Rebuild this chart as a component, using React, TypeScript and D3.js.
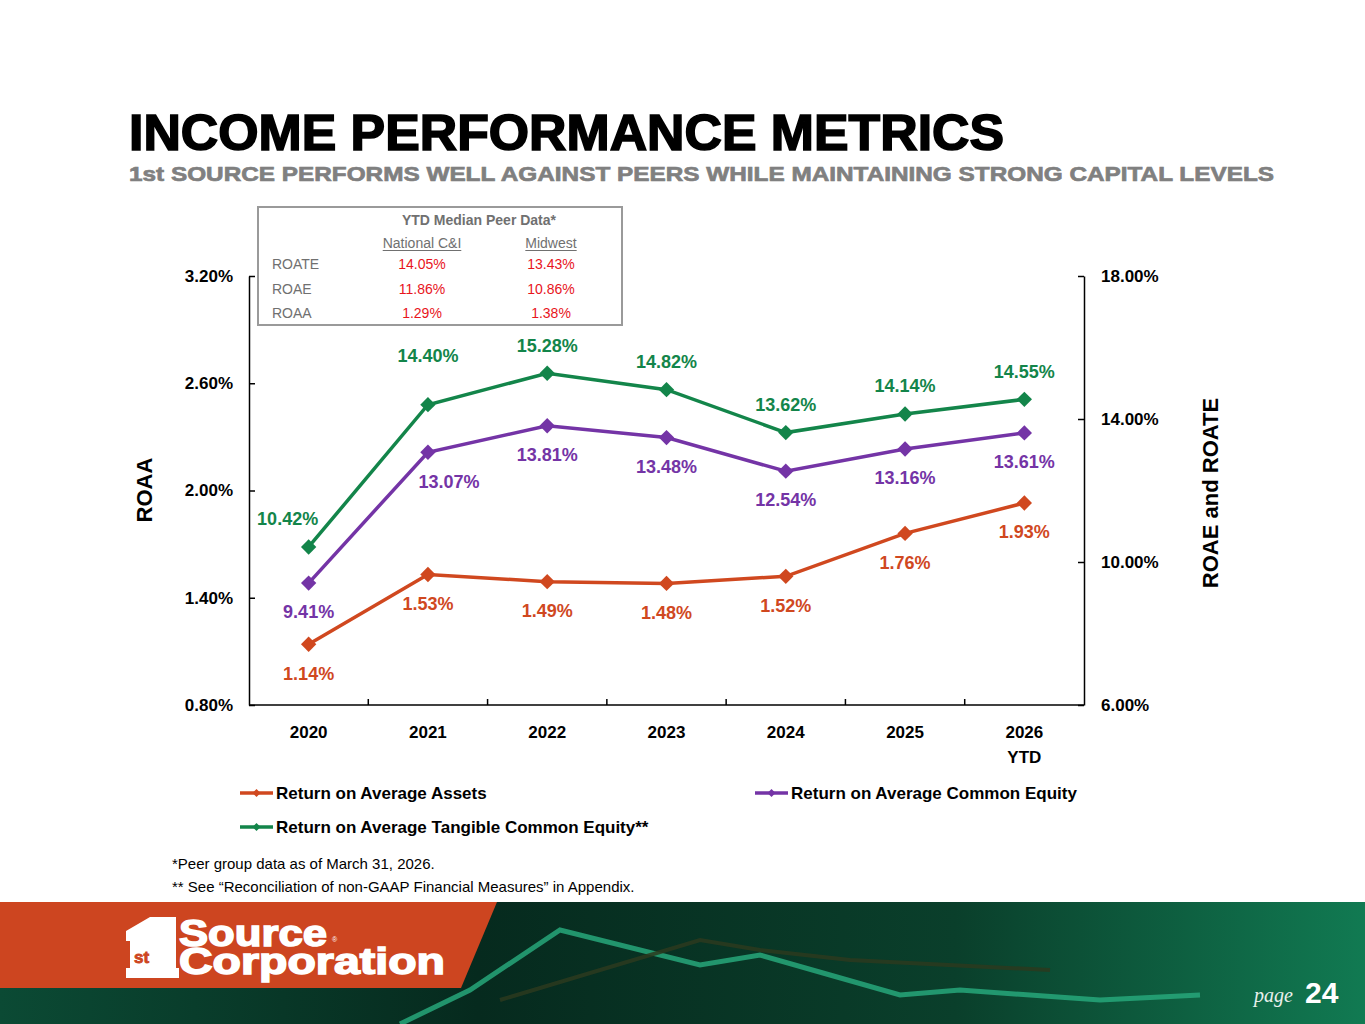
import { useEffect, useRef } from "react";
import * as d3 from "d3";

const years = ["2020", "2021", "2022", "2023", "2024", "2025", "2026"];
const yearSub = ["", "", "", "", "", "", "YTD"];
const roaa = [1.14, 1.53, 1.49, 1.48, 1.52, 1.76, 1.93];
const roae = [9.41, 13.07, 13.81, 13.48, 12.54, 13.16, 13.61];
const roate = [10.42, 14.4, 15.28, 14.82, 13.62, 14.14, 14.55];
const leftTicks = [0.8, 1.4, 2.0, 2.6, 3.2];
const rightTicks = [6, 10, 14, 18];

const peerCols = ["National C&I", "Midwest"];
const peerRows = ["ROATE", "ROAE", "ROAA"];
const peerNational = [14.05, 11.86, 1.29];
const peerMidwest = [13.43, 10.86, 1.38];

const FONT = "Arial, 'Liberation Sans', sans-serif";

export default function App() {
  const svgRef = useRef<SVGSVGElement>(null);

  useEffect(() => {
    if (!svgRef.current) return;
    const width = 1365;
    const height = 1024;
    d3.select(svgRef.current).selectAll("*").remove();

    const svg = d3
      .select(svgRef.current)
      .attr("width", width)
      .attr("height", height)
      .style("font-family", FONT);

    svg.append("rect").attr("width", width).attr("height", height).attr("fill", "#fff");

    // plot frame
    const left = 249;
    const right = 1084;
    const top = 276;
    const bottom = 705;

    const x = d3.scaleBand<string>().domain(years).range([left, right]);
    const yL = d3.scaleLinear().domain([0.8, 3.2]).range([bottom, top]);
    const yR = d3.scaleLinear().domain([6, 18]).range([bottom, top]);

    // Title
    svg
      .append("text")
      .attr("x", 129)
      .attr("y", 150)
      .attr("font-size", 50)
      .attr("font-weight", 900)
      .attr("textLength", 875)
      .attr("lengthAdjust", "spacingAndGlyphs")
      .attr("fill", "#000")
      .attr("stroke", "#000")
      .attr("stroke-width", 1.6)
      .text("INCOME PERFORMANCE METRICS");

    svg
      .append("text")
      .attr("x", 129)
      .attr("y", 181)
      .attr("font-size", 21)
      .attr("font-weight", 700)
      .attr("textLength", 1145)
      .attr("lengthAdjust", "spacingAndGlyphs")
      .attr("fill", "#808080")
      .attr("stroke", "#808080")
      .attr("stroke-width", 0.7)
      .text("1st SOURCE PERFORMS WELL AGAINST PEERS WHILE MAINTAINING STRONG CAPITAL LEVELS");

    // Axes
    const axisL = svg
      .append("g")
      .attr("transform", `translate(${left},0)`)
      .call(
        d3
          .axisLeft(yL)
          .tickValues(leftTicks)
          .tickSizeInner(-6)
          .tickSizeOuter(0)
          .tickPadding(16)
          .tickFormat((d) => `${(d as number).toFixed(2)}%`)
      );

    const axisR = svg
      .append("g")
      .attr("transform", `translate(${right},0)`)
      .call(
        d3
          .axisRight(yR)
          .tickValues(rightTicks)
          .tickSizeInner(-6)
          .tickSizeOuter(0)
          .tickPadding(17)
          .tickFormat((d) => `${(d as number).toFixed(2)}%`)
      );

    [axisL, axisR].forEach((a) => {
      a.select(".domain").attr("stroke", "#000").attr("stroke-width", 1.5);
      a.selectAll(".tick line").attr("stroke", "#000").attr("stroke-width", 1.5);
      a.selectAll(".tick text")
        .attr("font-size", 17)
        .attr("font-weight", 700)
        .attr("font-family", FONT)
        .attr("fill", "#000");
    });

    // x axis
    const gx = svg.append("g");
    gx.append("line")
      .attr("x1", left)
      .attr("x2", right)
      .attr("y1", bottom)
      .attr("y2", bottom)
      .attr("stroke", "#000")
      .attr("stroke-width", 1.5);
    gx.selectAll("line.tk")
      .data(years.slice(1))
      .join("line")
      .attr("class", "tk")
      .attr("x1", (d) => x(d)!)
      .attr("x2", (d) => x(d)!)
      .attr("y1", bottom)
      .attr("y2", bottom - 6)
      .attr("stroke", "#000")
      .attr("stroke-width", 1.5);
    gx.selectAll("text.yr")
      .data(years)
      .join("text")
      .attr("class", "yr")
      .attr("x", (d) => x(d)! + x.bandwidth() / 2)
      .attr("y", 738)
      .attr("text-anchor", "middle")
      .attr("font-size", 17)
      .attr("font-weight", 700)
      .text((d) => d);
    gx.selectAll("text.sub")
      .data(years)
      .join("text")
      .attr("class", "sub")
      .attr("x", (d) => x(d)! + x.bandwidth() / 2)
      .attr("y", 763)
      .attr("text-anchor", "middle")
      .attr("font-size", 17)
      .attr("font-weight", 700)
      .text((_, i) => yearSub[i]);

    // axis titles
    svg
      .append("text")
      .attr("transform", "translate(152,490) rotate(-90)")
      .attr("text-anchor", "middle")
      .attr("font-size", 22)
      .attr("font-weight", 700)
      .text("ROAA");
    svg
      .append("text")
      .attr("transform", "translate(1218,493) rotate(-90)")
      .attr("text-anchor", "middle")
      .attr("font-size", 22)
      .attr("font-weight", 700)
      .text("ROAE and ROATE");

    // Series
    const series = [
      { key: "ROATE", values: roate, scale: yR, color: "#13854a", above: true },
      { key: "ROAE", values: roae, scale: yR, color: "#7434a6", above: false },
      { key: "ROAA", values: roaa, scale: yL, color: "#d0481f", above: false },
    ];
    // hand-placed label nudges [dx, dy], as in the original slide
    const labelNudge: Record<string, [number, number]> = {
      "ROATE-2020": [-21, 0],
      "ROATE-2021": [0, -21],
      "ROAE-2021": [21, 0],
    };

    const diamond = d3.symbol().type(d3.symbolDiamond2).size(150);

    series.forEach((s) => {
      const pts = s.values.map((v, i) => ({ year: years[i], v }));
      const line = d3
        .line<{ year: string; v: number }>()
        .x((d) => x(d.year)! + x.bandwidth() / 2)
        .y((d) => s.scale(d.v));
      svg
        .append("path")
        .datum(pts)
        .attr("d", line)
        .attr("fill", "none")
        .attr("stroke", s.color)
        .attr("stroke-width", 3.5);
      svg
        .append("g")
        .selectAll("path")
        .data(pts)
        .join("path")
        .attr("d", diamond)
        .attr(
          "transform",
          (d) => `translate(${x(d.year)! + x.bandwidth() / 2},${s.scale(d.v)})`
        )
        .attr("fill", s.color);
      svg
        .append("g")
        .selectAll("text")
        .data(pts)
        .join("text")
        .attr(
          "x",
          (d) =>
            x(d.year)! + x.bandwidth() / 2 + (labelNudge[`${s.key}-${d.year}`]?.[0] ?? 0)
        )
        .attr(
          "y",
          (d) =>
            s.scale(d.v) +
            (s.above ? -28 : 29) +
            (labelNudge[`${s.key}-${d.year}`]?.[1] ?? 0)
        )
        .attr("dy", "0.35em")
        .attr("text-anchor", "middle")
        .attr("font-size", 18)
        .attr("font-weight", 700)
        .attr("fill", s.color)
        .text((d) => `${d.v.toFixed(2)}%`);
    });

    // Peer table
    const tb = svg.append("g");
    tb.append("rect")
      .attr("x", 258)
      .attr("y", 207)
      .attr("width", 364)
      .attr("height", 118)
      .attr("fill", "#fff")
      .attr("stroke", "#9a9a9a")
      .attr("stroke-width", 2);
    tb.append("text")
      .attr("x", 479)
      .attr("y", 225)
      .attr("text-anchor", "middle")
      .attr("font-size", 14)
      .attr("font-weight", 700)
      .attr("fill", "#707070")
      .text("YTD Median Peer Data*");
    const colX = [422, 551];
    peerCols.forEach((c, i) => {
      const t = tb
        .append("text")
        .attr("x", colX[i])
        .attr("y", 248)
        .attr("text-anchor", "middle")
        .attr("font-size", 14)
        .attr("fill", "#707070")
        .text(c);
      const w = (t.node() as SVGTextElement).getComputedTextLength();
      tb.append("line")
        .attr("x1", colX[i] - w / 2)
        .attr("x2", colX[i] + w / 2)
        .attr("y1", 250.5)
        .attr("y2", 250.5)
        .attr("stroke", "#707070")
        .attr("stroke-width", 1);
    });
    const rowY = d3.scalePoint<string>().domain(peerRows).range([269, 318]);
    peerRows.forEach((r, i) => {
      tb.append("text")
        .attr("x", 272)
        .attr("y", rowY(r)!)
        .attr("font-size", 14)
        .attr("fill", "#707070")
        .text(r);
      [peerNational[i], peerMidwest[i]].forEach((v, j) => {
        tb.append("text")
          .attr("x", colX[j])
          .attr("y", rowY(r)!)
          .attr("text-anchor", "middle")
          .attr("font-size", 14)
          .attr("fill", "#e8141c")
          .text(`${v.toFixed(2)}%`);
      });
    });

    // Legend
    const legend = [
      { label: "Return on Average Assets", color: "#d0481f", lx: 240, ly: 793 },
      { label: "Return on Average Common Equity", color: "#7434a6", lx: 755, ly: 793 },
      { label: "Return on Average Tangible Common Equity**", color: "#13854a", lx: 240, ly: 827 },
    ];
    const lg = svg.append("g");
    legend.forEach((l) => {
      lg.append("line")
        .attr("x1", l.lx)
        .attr("x2", l.lx + 33)
        .attr("y1", l.ly)
        .attr("y2", l.ly)
        .attr("stroke", l.color)
        .attr("stroke-width", 3.5);
      lg.append("path")
        .attr("d", d3.symbol().type(d3.symbolDiamond2).size(40)())
        .attr("transform", `translate(${l.lx + 16.5},${l.ly})`)
        .attr("fill", l.color);
      lg.append("text")
        .attr("x", l.lx + 36)
        .attr("y", l.ly)
        .attr("dy", "0.35em")
        .attr("font-size", 17)
        .attr("font-weight", 700)
        .text(l.label);
    });

    // Footnotes
    svg
      .append("text")
      .attr("x", 172)
      .attr("y", 869)
      .attr("font-size", 15)
      .text("*Peer group data as of March 31, 2026.");
    svg
      .append("text")
      .attr("x", 172)
      .attr("y", 892)
      .attr("font-size", 15)
      .text("** See \u201CReconciliation of non-GAAP Financial Measures\u201D in Appendix.");

    // Footer banner
    const defs = svg.append("defs");
    const grad = defs
      .append("linearGradient")
      .attr("id", "footer-grad")
      .attr("x1", "0%")
      .attr("y1", "0%")
      .attr("x2", "100%")
      .attr("y2", "0%");
    grad.append("stop").attr("offset", "0%").attr("stop-color", "#0b4a34");
    grad.append("stop").attr("offset", "35%").attr("stop-color", "#062a1e");
    grad.append("stop").attr("offset", "70%").attr("stop-color", "#0a3f2b");
    grad.append("stop").attr("offset", "100%").attr("stop-color", "#117a52");
    const foot = svg.append("g");
    foot.append("rect")
      .attr("x", 0)
      .attr("y", 902)
      .attr("width", width)
      .attr("height", height - 902)
      .attr("fill", "url(#footer-grad)");
    const deco: [number, number][][] = [
      [[400, 1024], [470, 990], [560, 930], [700, 965], [760, 955], [830, 975], [900, 995], [960, 990], [1100, 1000], [1200, 995]],
      [[500, 1000], [700, 940], [760, 950], [850, 960], [1050, 970]],
    ];
    deco.forEach((p, i) =>
      foot.append("path")
        .attr("d", d3.line()(p))
        .attr("fill", "none")
        .attr("stroke", i === 0 ? "#27a77a" : "#2c3a1e")
        .attr("stroke-width", i === 0 ? 5 : 4)
        .attr("opacity", 0.85)
    );
    foot.append("polygon")
      .attr("points", "0,902 497,902 461,988 0,988")
      .attr("fill", "#cd4520");

    // logo
    const logo = foot.append("g").attr("fill", "#fff");
    logo.append("path")
      .attr(
        "d",
        "M126,931 L150,917 L176,917 L176,968 L179,968 L179,978 L126,978 L126,968 L130,968 L130,941 L126,941 Z"
      )
      .attr("fill", "#fff");
    logo.append("text")
      .attr("x", 134)
      .attr("y", 963)
      .attr("font-size", 17)
      .attr("font-weight", 900)
      .attr("fill", "#cd4520")
      .attr("stroke", "#cd4520")
      .attr("stroke-width", 0.8)
      .text("st");
    logo.append("text")
      .attr("x", 179)
      .attr("y", 946)
      .attr("font-size", 36)
      .attr("font-weight", 900)
      .attr("stroke", "#fff")
      .attr("stroke-width", 1.5)
      .attr("textLength", 148)
      .attr("lengthAdjust", "spacingAndGlyphs")
      .text("Source");
    logo.append("text")
      .attr("x", 332)
      .attr("y", 942)
      .attr("font-size", 7)
      .text("\u00AE");
    logo.append("text")
      .attr("x", 179)
      .attr("y", 974)
      .attr("font-size", 36)
      .attr("font-weight", 900)
      .attr("stroke", "#fff")
      .attr("stroke-width", 1.5)
      .attr("textLength", 266)
      .attr("lengthAdjust", "spacingAndGlyphs")
      .text("Corporation");

    // page number
    foot.append("text")
      .attr("x", 1254)
      .attr("y", 1002)
      .attr("font-family", "'Liberation Serif', 'DejaVu Serif', serif")
      .attr("font-style", "italic")
      .attr("font-size", 20)
      .attr("fill", "#e8f0ec")
      .text("page");
    foot.append("text")
      .attr("x", 1305)
      .attr("y", 1003)
      .attr("font-size", 30)
      .attr("font-weight", 700)
      .attr("fill", "#fff")
      .text("24");
  }, []);

  return (
    <div style={{ position: "absolute", left: 0, top: 0 }}>
      <svg ref={svgRef} style={{ display: "block" }} />
    </div>
  );
}
